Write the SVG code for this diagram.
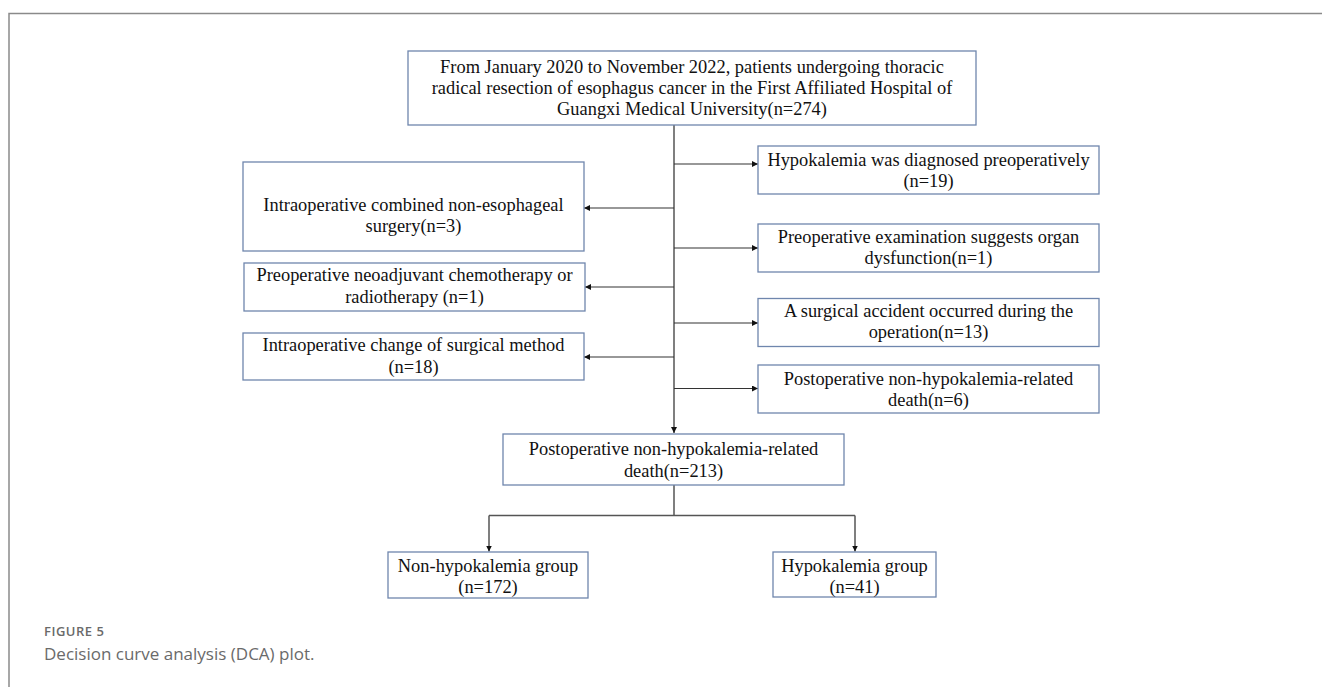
<svg xmlns="http://www.w3.org/2000/svg" width="1322" height="687" viewBox="0 0 1322 687">
<defs>
<style>
.box{fill:#ffffff;stroke:#6f86ad;stroke-width:1.3}
.t{font-family:"Liberation Serif","Times New Roman",serif;font-size:18.4px;fill:#111;text-anchor:middle}
.c{fill:none;stroke:#333;stroke-width:1.2}
.trunk{fill:none;stroke:#555;stroke-width:1.5}
.frame{fill:none;stroke:#8a8a8a;stroke-width:1.5}
.cap1{font-family:"Open Sans","Noto Sans",sans-serif;font-size:13px;font-weight:600;fill:#6a6a6a;letter-spacing:0.5px}
.cap2{font-family:"Open Sans","Noto Sans",sans-serif;font-size:17px;fill:#6a6a6a}
</style>
<marker id="ah" markerUnits="userSpaceOnUse" markerWidth="8" markerHeight="8" refX="6" refY="3" orient="auto">
<path d="M0,0 L6,3 L0,6 z" fill="#111"/>
</marker>
</defs>
<rect width="1322" height="687" fill="#ffffff"/>
<path class="frame" d="M9,687 V13.5 H1322"/>

<g id="connectors">
<path class="trunk" d="M674,125 V433" marker-end="url(#ah)"/>
<path class="c" d="M674,164 H758" marker-end="url(#ah)"/>
<path class="c" d="M674,248 H758" marker-end="url(#ah)"/>
<path class="c" d="M674,323 H758" marker-end="url(#ah)"/>
<path class="c" d="M674,388.5 H758" marker-end="url(#ah)"/>
<path class="c" d="M674,208 H584" marker-end="url(#ah)"/>
<path class="c" d="M674,287 H585" marker-end="url(#ah)"/>
<path class="c" d="M674,357 H584" marker-end="url(#ah)"/>
<path class="trunk" d="M674,485 V515.5 M489,515.5 H855"/>
<path class="trunk" d="M489,515.5 V551.5" marker-end="url(#ah)"/>
<path class="trunk" d="M855,515.5 V551.5" marker-end="url(#ah)"/>
</g>

<g id="n-top">
<rect class="box" x="408" y="51" width="568" height="74"/>
<text class="t" x="692" y="73">From January 2020 to November 2022, patients undergoing thoracic</text>
<text class="t" x="692" y="94">radical resection of esophagus cancer in the First Affiliated Hospital of</text>
<text class="t" x="692" y="115">Guangxi Medical University(n=274)</text>
</g>

<g id="n-hypo-pre">
<rect class="box" x="758" y="146" width="341" height="48"/>
<text class="t" x="928.5" y="166">Hypokalemia was diagnosed preoperatively</text>
<text class="t" x="928.5" y="187">(n=19)</text>
</g>

<g id="n-organ">
<rect class="box" x="758" y="224" width="341" height="48"/>
<text class="t" x="928.5" y="243">Preoperative examination suggests organ</text>
<text class="t" x="928.5" y="264">dysfunction(n=1)</text>
</g>

<g id="n-accident">
<rect class="box" x="758" y="298.5" width="341" height="48"/>
<text class="t" x="928.5" y="317">A surgical accident occurred during the</text>
<text class="t" x="928.5" y="338">operation(n=13)</text>
</g>

<g id="n-death6">
<rect class="box" x="758" y="365" width="341" height="48"/>
<text class="t" x="928.5" y="385">Postoperative non-hypokalemia-related</text>
<text class="t" x="928.5" y="406">death(n=6)</text>
</g>

<g id="n-combined">
<rect class="box" x="243" y="162" width="341" height="89"/>
<text class="t" x="413.5" y="211">Intraoperative combined non-esophageal</text>
<text class="t" x="413.5" y="232">surgery(n=3)</text>
</g>

<g id="n-neoadj">
<rect class="box" x="244" y="263" width="341" height="48"/>
<text class="t" x="414.5" y="281">Preoperative neoadjuvant chemotherapy or</text>
<text class="t" x="414.5" y="303">radiotherapy (n=1)</text>
</g>

<g id="n-change">
<rect class="box" x="243" y="333" width="341" height="47"/>
<text class="t" x="413.5" y="351">Intraoperative change of surgical method</text>
<text class="t" x="413.5" y="373">(n=18)</text>
</g>

<g id="n-mid">
<rect class="box" x="503" y="434" width="341" height="51"/>
<text class="t" x="673.5" y="455">Postoperative non-hypokalemia-related</text>
<text class="t" x="673.5" y="477">death(n=213)</text>
</g>

<g id="n-nonhypo">
<rect class="box" x="388" y="552" width="200" height="46"/>
<text class="t" x="488" y="572">Non-hypokalemia group</text>
<text class="t" x="488" y="593">(n=172)</text>
</g>

<g id="n-hypo">
<rect class="box" x="773" y="552" width="163" height="45"/>
<text class="t" x="854.5" y="572">Hypokalemia group</text>
<text class="t" x="854.5" y="593">(n=41)</text>
</g>

<g id="caption">
<text class="cap1" x="44" y="636">FIGURE 5</text>
<text class="cap2" x="44" y="660">Decision curve analysis (DCA) plot.</text>
</g>
</svg>
